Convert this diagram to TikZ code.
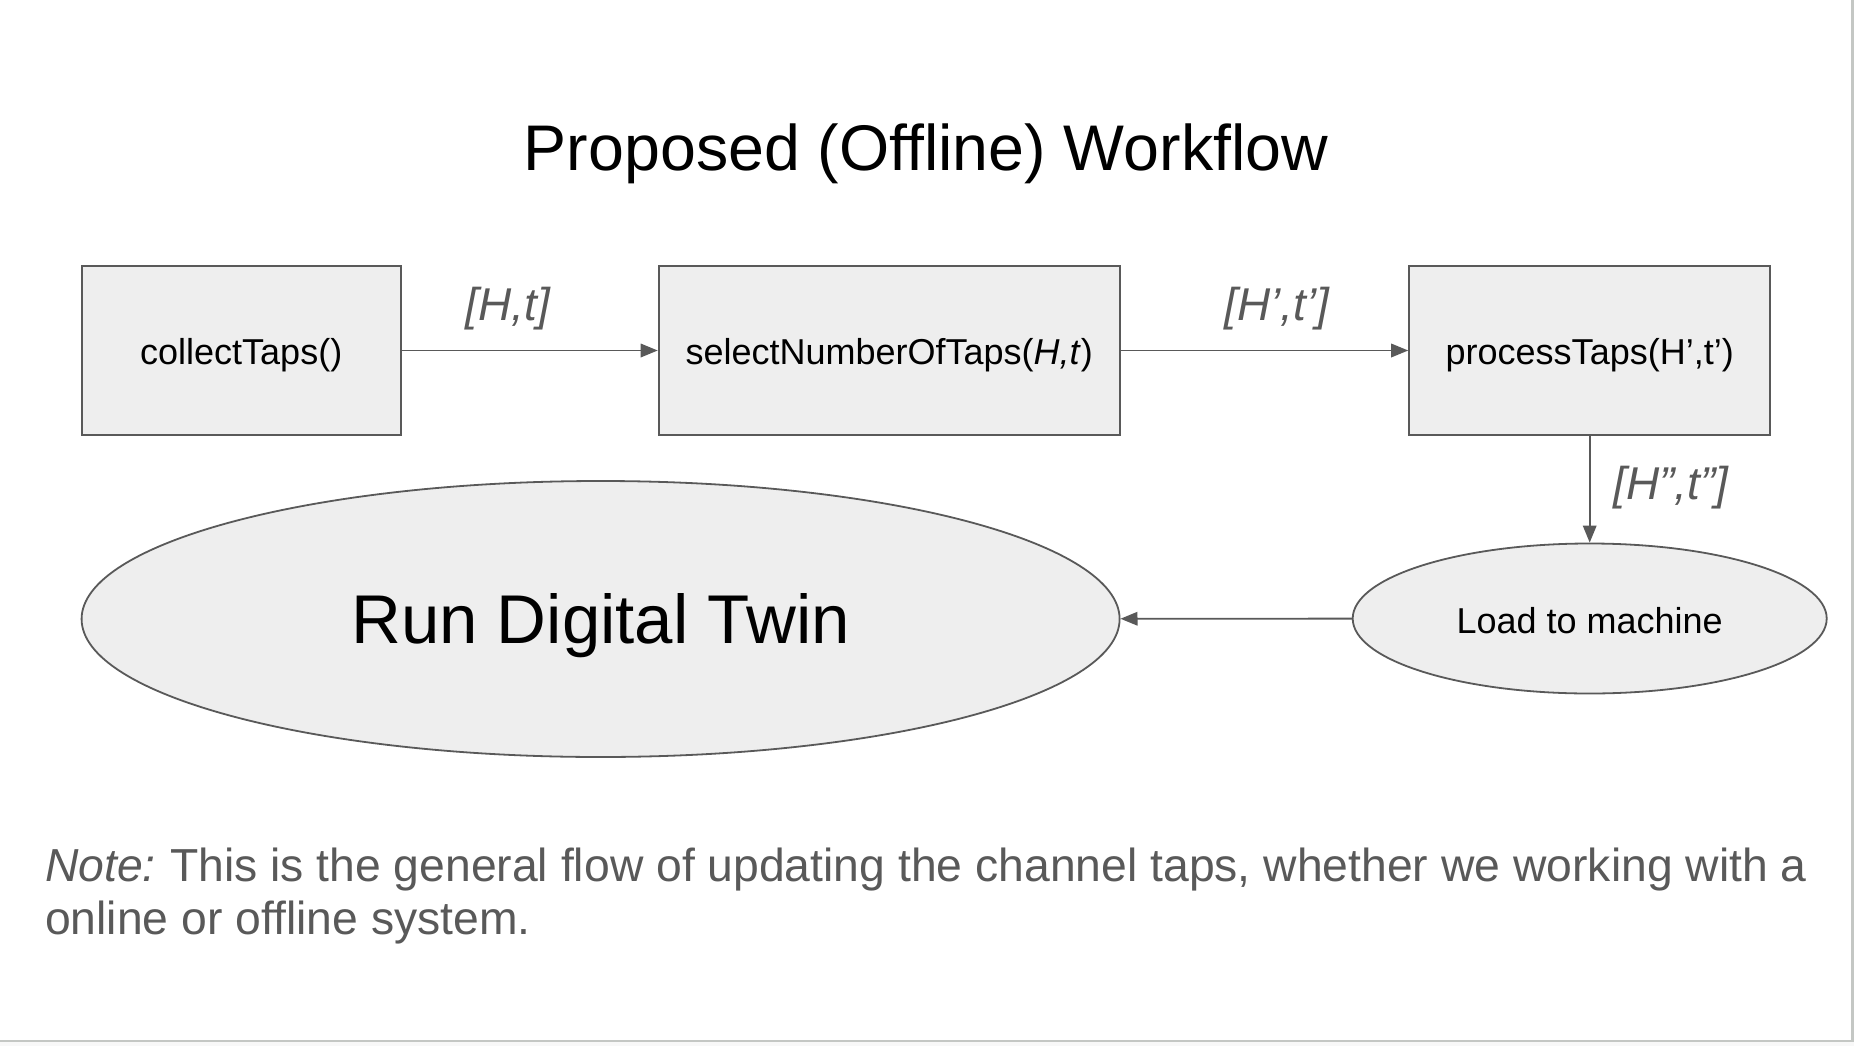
\documentclass[tikz,border=0pt]{standalone}
\usepackage{fontspec}
\setmainfont{Liberation Sans}
\usetikzlibrary{arrows.meta,shapes.geometric}
\definecolor{linegray}{HTML}{595959}
\definecolor{fillgray}{HTML}{EEEEEE}
\definecolor{framegray}{HTML}{C4C7C4}
\tikzset{
  stepbox/.style={draw=linegray,line width=2pt,fill=fillgray,rectangle,minimum height=169pt,inner sep=0pt,text=black},
  steptext/.style={inner sep=0pt,font=\fontsize{36}{40}\selectfont,text=black},
  ovalbox/.style={draw=linegray,line width=1.8pt,fill=fillgray,ellipse,inner sep=0pt,text=black},
  flow/.style={draw=linegray,line width=1.8pt,-{Triangle[length=17pt,width=13.5pt]}},
  lbl/.style={text=linegray,font=\fontsize{46}{52}\selectfont\itshape,inner sep=0pt},
}
\begin{document}
\begin{tikzpicture}[x=1pt,y=-1pt]
\useasboundingbox (0,0) rectangle (1854,1046);
\fill[white] (0,0) rectangle (1854,1046);
\fill[fillgray!40] (0,1042) rectangle (1854,1046);
\draw[framegray,line width=2.5pt] (0,1041) -- (1852.5,1041) -- (1852.5,0);

\node[anchor=base,inner sep=0pt,font=\fontsize{64.5}{70}\selectfont] (title) at (926,170) {Proposed (Offline) Workflow};

\node[stepbox,minimum width=319pt] (collect) at (241.2,350.5) {};
\node[stepbox,minimum width=461pt] (select) at (889.2,350.5) {};
\node[stepbox,minimum width=361pt] (process) at (1589.7,350.5) {};
\node[steptext] (collectT) at (241.2,355) {collectTaps()};
\node[steptext] (selectT) at (889.2,355) {selectNumberOfTaps(\textit{H,t})};
\node[steptext] (processT) at (1589.7,355) {processTaps(H’,t’)};

\node[ovalbox,minimum width=474pt,minimum height=150pt] (load) at (1589.7,618.5) {};
\node[steptext] (loadT) at (1589.7,621) {Load to machine};
\node[ovalbox,minimum width=1038pt,minimum height=276pt] (twin) at (600.6,619) {};
\node[inner sep=0pt,font=\fontsize{69}{74}\selectfont] (twinT) at (600.6,626) {Run Digital Twin};

\draw[flow] (collect) -- (select);
\draw[flow] (select) -- (process);
\draw[flow] (process) -- (load);
\draw[flow] (load) -- (twin);

\node[lbl] (l1) at (508,308.5) {[H,t]};
\node[lbl] (l2) at (1277,308.5) {[H’,t’]};
\node[lbl] (l3) at (1671,488) {[H”,t”]};

\node[anchor=base west,inner sep=0pt,text=linegray,font=\fontsize{46.3}{52}\selectfont] (note1) at (45,881) {\textit{Note:}\kern-3pt{} This is the general flow of updating the channel taps, whether we working with a};
\node[anchor=base west,inner sep=0pt,text=linegray,font=\fontsize{46.3}{52}\selectfont] (note2) at (45,934) {online or offline system.};
\end{tikzpicture}
\end{document}
